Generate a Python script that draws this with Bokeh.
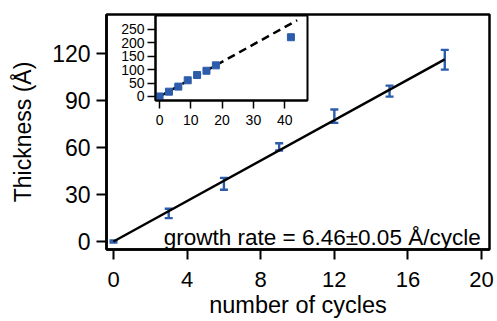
from bokeh.plotting import figure
from bokeh.models import Range1d, FixedTicker, Label, ColumnDataSource, Whisker
from bokeh.layouts import column
from bokeh.embed import file_html
from bokeh.resources import INLINE

# ---- data ----
cycles = [0, 3, 6, 9, 12, 15, 18]
thickness = [0.0, 17.9, 36.8, 60.4, 80.0, 96.0, 116.0]
thickness_err = [0.6, 3.0, 3.8, 2.3, 4.3, 3.5, 6.3]
fit_slope = 6.46
fit_x = [0, 18]
inset_extra_x = [42]
inset_extra_y = [221.0]
inset_line_x = [0, 44]
main_xticks = [0, 4, 8, 12, 16, 20]
main_yticks = [0, 30, 60, 90, 120]
inset_xticks = [0, 10, 20, 30, 40]
inset_yticks = [0, 50, 100, 150, 200, 250]
annotation = "growth rate = 6.46\u00b10.05 \u00c5/cycle"

FONT = "Liberation Sans"
BLUE = "#2c5cab"

# ---- main figure ----
p = figure(width=497, height=321, output_backend="svg", toolbar_location=None,
           x_range=Range1d(-0.38, 20.43), y_range=Range1d(-5.1, 144.9),
           min_border_left=106, min_border_right=8, min_border_top=14, min_border_bottom=72)
p.grid.visible = False
p.outline_line_color = "black"
p.outline_line_width = 2.5
p.background_fill_color = "white"
p.border_fill_color = "white"

for ax in (p.xaxis[0], p.yaxis[0]):
    ax.axis_line_width = 2.5
    ax.major_tick_line_width = 2
    ax.major_tick_out = 10
    ax.major_tick_in = 0
    ax.minor_tick_line_color = None
    ax.major_label_text_font = FONT
    ax.major_label_text_color = "black"
    ax.axis_label_text_font = FONT
    ax.axis_label_text_font_style = "normal"
    ax.axis_label_text_color = "black"

p.xaxis.ticker = FixedTicker(ticks=main_xticks)
p.yaxis.ticker = FixedTicker(ticks=main_yticks)
p.xaxis.axis_label = "number of cycles"
p.yaxis.axis_label = "Thickness (\u00c5)"
p.xaxis.major_label_text_font_size = "22px"
p.yaxis.major_label_text_font_size = "23px"
p.xaxis.axis_label_text_font_size = "23.5px"
p.yaxis.axis_label_text_font_size = "23px"
p.xaxis.major_label_text_line_height = 0.9
p.xaxis.axis_label_text_line_height = 0.9
p.xaxis.major_label_standoff = 12
p.yaxis.major_label_standoff = 6
p.xaxis.axis_label_standoff = 2
p.yaxis.axis_label_standoff = 13

# fit line
fit_y = [fit_slope * v for v in fit_x]
p.line(fit_x, fit_y, line_color="black", line_width=2.5)

# error bars
upper = [t + e for t, e in zip(thickness, thickness_err)]
lower = [t - e for t, e in zip(thickness, thickness_err)]
src = ColumnDataSource(dict(x=cycles, y=thickness, upper=upper, lower=lower))
w = Whisker(source=src, base="x", upper="upper", lower="lower",
            line_color=BLUE, line_width=2.4)
for head in (w.upper_head, w.lower_head):
    head.size = 8
    head.line_color = BLUE
    head.line_width = 2.4
p.add_layout(w)

p.add_layout(Label(x=19.95, y=2.8, text=annotation, text_align="right",
                   text_baseline="alphabetic", text_font=FONT,
                   text_font_size="22.5px", text_color="black"))

# ---- inset (overlaid; its transparent border lets the main plot show through) ----
ins = figure(width=266, height=117, output_backend="svg", toolbar_location=None,
             x_range=Range1d(-1.3, 47.3), y_range=Range1d(-15, 302),
             min_border_left=106, min_border_right=8, min_border_top=2, min_border_bottom=30,
             styles={"position": "absolute", "left": "49px", "top": "13px"})
ins.grid.visible = False
ins.outline_line_color = "black"
ins.outline_line_width = 2
ins.background_fill_color = "white"
ins.border_fill_alpha = 0
for ax in (ins.xaxis[0], ins.yaxis[0]):
    ax.axis_line_width = 2
    ax.major_tick_line_width = 1.5
    ax.major_tick_out = 8
    ax.major_tick_in = 0
    ax.minor_tick_line_color = None
    ax.major_label_text_font = FONT
    ax.major_label_text_font_size = "14px"
    ax.major_label_text_color = "black"
ins.xaxis.ticker = FixedTicker(ticks=inset_xticks)
ins.yaxis.ticker = FixedTicker(ticks=inset_yticks)
ins.xaxis.major_label_standoff = 6
ins.yaxis.major_label_standoff = 3

inset_line_y = [fit_slope * v for v in inset_line_x]
ins.line(inset_line_x, inset_line_y, line_color="black", line_width=2.5, line_dash="8 5")
ins.scatter(cycles + inset_extra_x, thickness + inset_extra_y, marker="square",
            size=7, fill_color=BLUE, line_color=BLUE)

layout = column(p, ins, width=497, height=321, styles={"position": "relative"})

open("out.html", "w").write(file_html(layout, INLINE))
